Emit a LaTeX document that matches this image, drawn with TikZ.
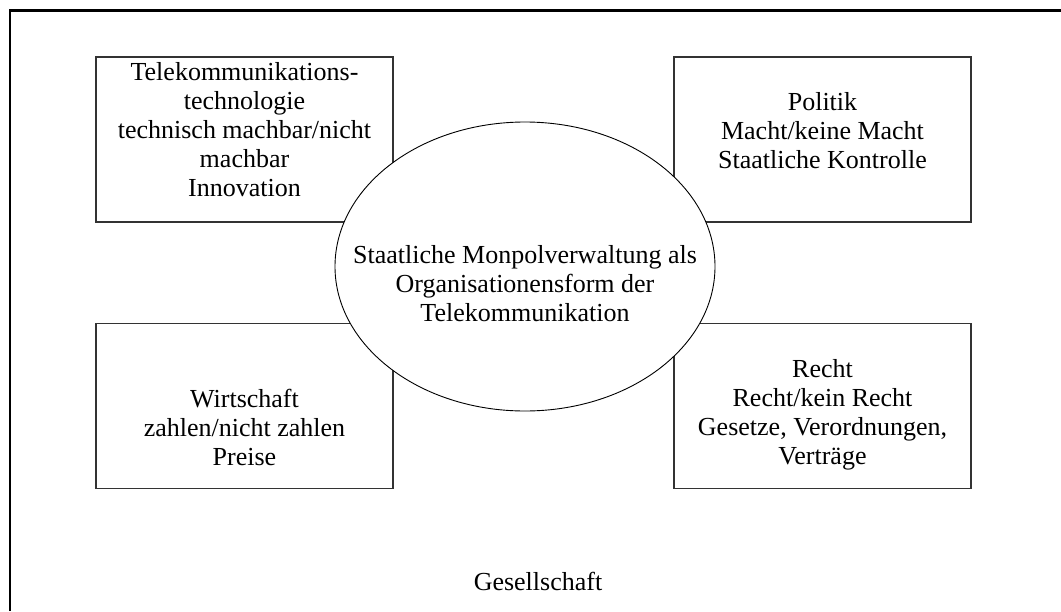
\documentclass[tikz,border=0pt]{standalone}
\usepackage{fontspec}
\setmainfont{Liberation Serif}
\usetikzlibrary{shapes,positioning}
\tikzset{
  every node/.style={
    font=\fontsize{26}{29}\selectfont
  },
  field/.style={
    shape=rectangle,
    draw=black!80,
    line width=1.2pt,
    minimum width=297pt,
    minimum height=165pt,
    inner sep=0pt
  },
  fieldtext/.style={
    align=center,
    inner sep=0pt
  },
  core/.style={
    shape=ellipse,
    draw=black,
    line width=0.9pt,
    fill=white,
    minimum width=380pt,
    minimum height=289pt,
    inner sep=0pt
  }
}

\begin{document}
\begin{tikzpicture}[x=1pt,y=-1pt]
  \useasboundingbox (0,0) rectangle (1061,611);
  % society frame, cut off at the right and bottom
  \draw [line width=2.5pt] (10,611) -- (10,10.5) -- (1061,10.5);

  \node [field] (tech) at (244.5,139.5) {};
  \node [field] (politik) at (822.5,139.5) {};
  \node [field] (wirtschaft) at (244.5,406) {};
  \node [field] (recht) at (822.5,406) {};

  \node [fieldtext] (techtext) at (244.5,130) {
    Telekommunikations-\\technologie\\technisch machbar/nicht\\machbar\\Innovation
  };
  \node [fieldtext] (politiktext) at (822.5,130.5) {
    Politik\\Macht/keine Macht\\Staatliche Kontrolle
  };
  \node [fieldtext] (wirtschafttext) at (244.5,427.5) {
    Wirtschaft\\zahlen/nicht zahlen\\Preise
  };
  \node [fieldtext] (rechttext) at (822.5,414.5) {
    Recht\\Recht/kein Recht\\Gesetze, Verordnungen,\\Verträge
  };

  \node [core] (monopol) at (525,266.5) {};
  \node [fieldtext] (monopoltext) at (525,284) {
    Staatliche Monpolverwaltung als\\Organisationensform der\\Telekommunikation
  };

  \node [fieldtext] (gesellschaft) at (538,581.5) {Gesellschaft};
\end{tikzpicture}
\end{document}
